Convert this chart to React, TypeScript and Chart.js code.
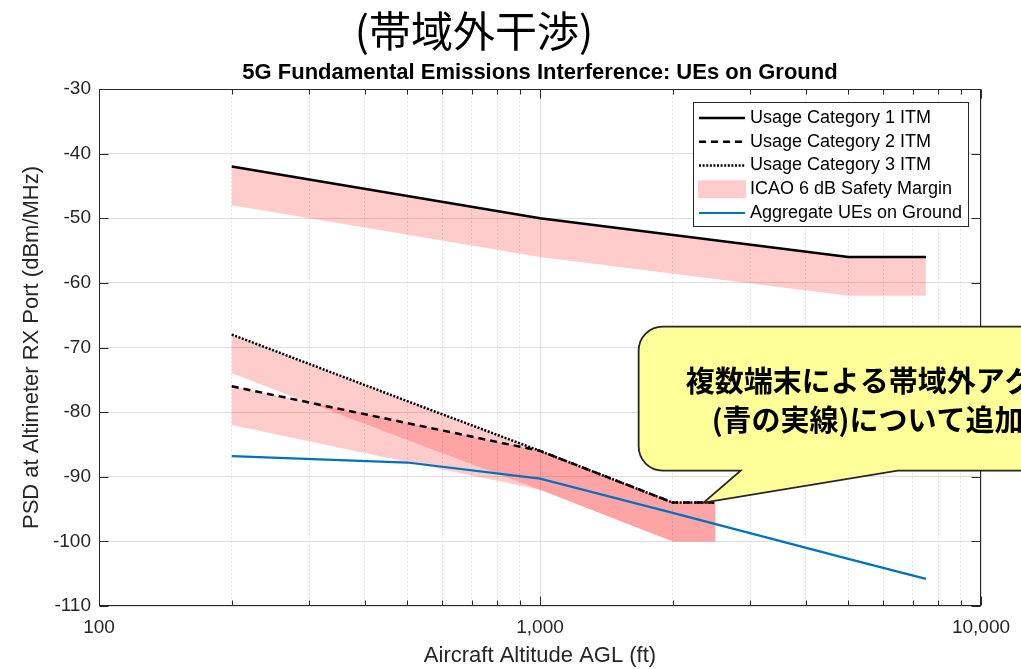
import React, { useEffect, useRef } from "react";
import { Chart, registerables } from "chart.js";

Chart.register(...registerables);

// ---------------- data ----------------
const cat1Altitudes = [200, 1000, 5000, 7500];
const cat1Psd = [-42, -50, -56, -56];

const cat23Altitudes = [200, 500, 1000, 2000, 2500];
const cat2Psd = [-76, -81.7, -86, -94, -94];
const cat3Psd = [-68, -78.3, -86, -94, -94];

const ueAltitudes = [200, 500, 1000, 2000, 5000, 7500];
const aggregatePsd = [-86.8, -87.8, -90.3, -95.6, -102.7, -105.8];

const safetyMarginDb = 6;

const xTickValues = [
  100, 200, 300, 400, 500, 600, 700, 800, 900,
  1000, 2000, 3000, 4000, 5000, 6000, 7000, 8000, 9000,
  10000,
];
const xLabeledTicks = [100, 1000, 10000];
const yMin = -110;
const yMax = -30;
const yStep = 10;

const legendLabels = [
  "Usage Category 1 ITM",
  "Usage Category 2 ITM",
  "Usage Category 3 ITM",
  "ICAO 6 dB Safety Margin",
  "Aggregate UEs on Ground",
];

const pageTitle = "(帯域外干渉)";
const chartTitle = "5G Fundamental Emissions Interference: UEs on Ground";
const xAxisTitle = "Aircraft Altitude AGL (ft)";
const yAxisTitle = "PSD at Altimeter RX Port (dBm/MHz)";
const calloutLines = ["複数端末による帯域外アグリゲート干渉", "(青の実線)について追加検討"];
const calloutAnchor = { x: 2350, y: -94 };

// ---------------- styles ----------------
const INK = "#262626";
const BAND = "rgba(255, 0, 0, 0.2)";
const BLUE = "#0072BD";
const FONT = '"Liberation Sans", Arial, Helvetica, sans-serif';
const CJK = '"Noto Sans CJK JP", "Noto Sans CJK SC", sans-serif';
const DASH = [7, 5];
const DOT = [2, 1.6];

const pts = (xs: number[], ys: number[], offset = 0) =>
  xs.map((x, i) => ({ x, y: ys[i] + offset }));

const isDecade = (v: number) =>
  Math.abs(Math.log10(v) - Math.round(Math.log10(v))) < 1e-9;

function drawFrame(chart: any) {
  const { ctx, chartArea: a, scales } = chart;
  const xs = scales.x;
  const ys = scales.y;
  const L = Math.round(a.left) + 0.5;
  const R = Math.round(a.right) - 0.5;
  const T = Math.round(a.top) + 0.5;
  const B = Math.round(a.bottom) - 0.5;
  ctx.save();
  ctx.strokeStyle = INK;
  ctx.lineWidth = 1;
  ctx.setLineDash([]);
  ctx.strokeRect(L, T, R - L, B - T);
  ctx.beginPath();
  xTickValues.forEach((v) => {
    const px = Math.round(xs.getPixelForValue(v)) + 0.5;
    const len = isDecade(v) ? 9 : 5;
    ctx.moveTo(px, B);
    ctx.lineTo(px, B - len);
    ctx.moveTo(px, T);
    ctx.lineTo(px, T + len);
  });
  ys.ticks.forEach((t: any) => {
    const py = Math.round(ys.getPixelForValue(t.value)) + 0.5;
    ctx.moveTo(L, py);
    ctx.lineTo(L + 9, py);
    ctx.moveTo(R, py);
    ctx.lineTo(R - 9, py);
  });
  ctx.stroke();
  ctx.restore();
}

function drawLegend(chart: any) {
  const { ctx, chartArea: a } = chart;
  const w = 275;
  const h = 124;
  const bx = Math.round(a.right - 13 - w);
  const by = Math.round(a.top + 13);
  ctx.save();
  ctx.fillStyle = "#fff";
  ctx.fillRect(bx, by, w, h);
  ctx.strokeStyle = INK;
  ctx.lineWidth = 1;
  ctx.setLineDash([]);
  ctx.strokeRect(bx + 0.5, by + 0.5, w, h);
  const styles = [
    { kind: "line", color: "#000", dash: [] as number[], width: 2.5 },
    { kind: "line", color: "#000", dash: DASH, width: 2.5 },
    { kind: "line", color: "#000", dash: DOT, width: 2.5 },
    { kind: "patch", color: BAND, dash: [] as number[], width: 0 },
    { kind: "line", color: BLUE, dash: [] as number[], width: 2.2 },
  ];
  legendLabels.forEach((label, i) => {
    const cy = by + 16 + i * 23.75;
    const x0 = bx + 6;
    const x1 = bx + 52;
    const s = styles[i];
    if (s.kind === "line") {
      ctx.beginPath();
      ctx.setLineDash(s.dash);
      ctx.strokeStyle = s.color;
      ctx.lineWidth = s.width;
      ctx.moveTo(x0, cy);
      ctx.lineTo(x1, cy);
      ctx.stroke();
      ctx.setLineDash([]);
    } else {
      ctx.fillStyle = s.color;
      ctx.fillRect(x0 - 1, cy - 9, x1 - x0 + 2, 18);
    }
    ctx.fillStyle = "#000";
    ctx.font = `18px ${FONT}`;
    ctx.textAlign = "left";
    ctx.textBaseline = "middle";
    ctx.fillText(label, bx + 57, cy);
  });
  ctx.restore();
}

function drawTitles(chart: any) {
  const { ctx, chartArea: a } = chart;
  ctx.save();
  ctx.fillStyle = "#000";
  ctx.textAlign = "center";
  ctx.textBaseline = "middle";
  ctx.font = `42px ${CJK}`;
  ctx.fillText(pageTitle, 474, 31);
  ctx.font = `bold 22px ${FONT}`;
  ctx.fillText(chartTitle, (a.left + a.right) / 2, 73);
  ctx.restore();
}

function drawCallout(chart: any) {
  const { ctx, scales } = chart;
  const tx = scales.x.getPixelForValue(calloutAnchor.x);
  const ty = scales.y.getPixelForValue(calloutAnchor.y);
  const left = tx - 65;
  const top = ty - 176;
  const bottom = ty - 32;
  const right = chart.width + 300;
  const r = 24;
  const baseL = tx + 37;
  const baseR = tx + 194;
  ctx.save();
  ctx.beginPath();
  ctx.moveTo(left + r, top);
  ctx.lineTo(right, top);
  ctx.lineTo(right, bottom);
  ctx.lineTo(baseR, bottom);
  ctx.lineTo(tx, ty);
  ctx.lineTo(baseL, bottom);
  ctx.lineTo(left + r, bottom);
  ctx.arcTo(left, bottom, left, bottom - r, r);
  ctx.lineTo(left, top + r);
  ctx.arcTo(left, top, left + r, top, r);
  ctx.closePath();
  ctx.fillStyle = "#FFFF99";
  ctx.fill();
  ctx.strokeStyle = INK;
  ctx.lineWidth = 1.8;
  ctx.setLineDash([]);
  ctx.stroke();
  ctx.fillStyle = "#000";
  ctx.textAlign = "left";
  ctx.textBaseline = "middle";
  ctx.font = `bold 29px ${CJK}`;
  ctx.fillText(calloutLines[0], tx - 18, ty - 122);
  ctx.fillText(calloutLines[1], tx + 8, ty - 83);
  ctx.restore();
}

const decorPlugin = {
  id: "decor",
  afterDatasetsDraw(chart: any) {
    drawFrame(chart);
    drawLegend(chart);
  },
  afterDraw(chart: any) {
    drawTitles(chart);
    drawCallout(chart);
  },
};

export default function App() {
  const ref = useRef<HTMLCanvasElement>(null);

  useEffect(() => {
    if (!ref.current) return;
    const lineBase = {
      pointRadius: 0,
      pointHoverRadius: 0,
      tension: 0,
      fill: false,
    };
    const bandBase = {
      pointRadius: 0,
      pointHoverRadius: 0,
      tension: 0,
      borderWidth: 0,
      borderColor: "rgba(0,0,0,0)",
      backgroundColor: BAND,
      fill: "-1",
    };
    const chart = new Chart(ref.current, {
      type: "line",
      data: {
        datasets: [
          { ...lineBase, label: legendLabels[0], data: pts(cat1Altitudes, cat1Psd), borderColor: "#000", borderWidth: 2.5 },
          { ...bandBase, label: "band1", data: pts(cat1Altitudes, cat1Psd, -safetyMarginDb) },
          { ...lineBase, label: legendLabels[1], data: pts(cat23Altitudes, cat2Psd), borderColor: "#000", borderWidth: 2.5, borderDash: DASH },
          { ...bandBase, label: "band2", data: pts(cat23Altitudes, cat2Psd, -safetyMarginDb) },
          { ...lineBase, label: legendLabels[2], data: pts(cat23Altitudes, cat3Psd), borderColor: "#000", borderWidth: 2.5, borderDash: DOT },
          { ...bandBase, label: "band3", data: pts(cat23Altitudes, cat3Psd, -safetyMarginDb) },
          { ...lineBase, label: legendLabels[4], data: pts(ueAltitudes, aggregatePsd), borderColor: BLUE, borderWidth: 2.2 },
        ] as any,
      },
      options: {
        responsive: false,
        animation: false,
        events: [],
        devicePixelRatio: 1,
        layout: { padding: { top: 89, right: 40, bottom: 0, left: 0 } },
        plugins: {
          legend: { display: false },
          title: { display: false },
          tooltip: { enabled: false },
          filler: { drawTime: "beforeDatasetsDraw" },
        } as any,
        scales: {
          x: {
            type: "logarithmic",
            min: 100,
            max: 10000,
            afterBuildTicks: (scale: any) => {
              scale.ticks = xTickValues.map((v) => ({ value: v, major: isDecade(v) }));
            },
            afterFit: (scale: any) => {
              scale.height = 63;
            },
            ticks: {
              autoSkip: false,
              maxRotation: 0,
              minRotation: 0,
              padding: 10,
              color: INK,
              font: { family: FONT, size: 19 },
              callback: (value: any) =>
                xLabeledTicks.includes(Number(value))
                  ? Number(value).toLocaleString("en-US")
                  : "",
            },
            grid: {
              drawTicks: false,
              lineWidth: 1,
              color: (c: any) =>
                c.tick && isDecade(c.tick.value) ? "#dedede" : "#e4e4e4",
            },
            border: {
              display: false,
              dash: (c: any) => (c.tick && !isDecade(c.tick.value) ? [2, 2] : []),
            },
            title: {
              display: true,
              text: xAxisTitle,
              color: INK,
              font: { family: FONT, size: 22 },
              padding: { top: 0, bottom: 0 },
            },
          },
          y: {
            type: "linear",
            min: yMin,
            max: yMax,
            afterFit: (scale: any) => {
              scale.width = 99;
            },
            ticks: {
              stepSize: yStep,
              padding: 8,
              color: INK,
              font: { family: FONT, size: 19 },
            },
            grid: {
              drawTicks: false,
              lineWidth: 1,
              color: "#dedede",
            },
            border: { display: false },
            title: {
              display: true,
              text: yAxisTitle,
              color: INK,
              font: { family: FONT, size: 22 },
              padding: { top: 19, bottom: 0 },
            },
          },
        } as any,
      },
      plugins: [decorPlugin],
    });
    return () => chart.destroy();
  }, []);

  return (
    <div
      style={{
        position: "fixed",
        left: 0,
        top: 0,
        width: 1021,
        height: 669,
        background: "#fff",
        overflow: "hidden",
      }}
    >
      <canvas
        ref={ref}
        width={1021}
        height={669}
        style={{ display: "block", width: 1021, height: 669 }}
      />
    </div>
  );
}
